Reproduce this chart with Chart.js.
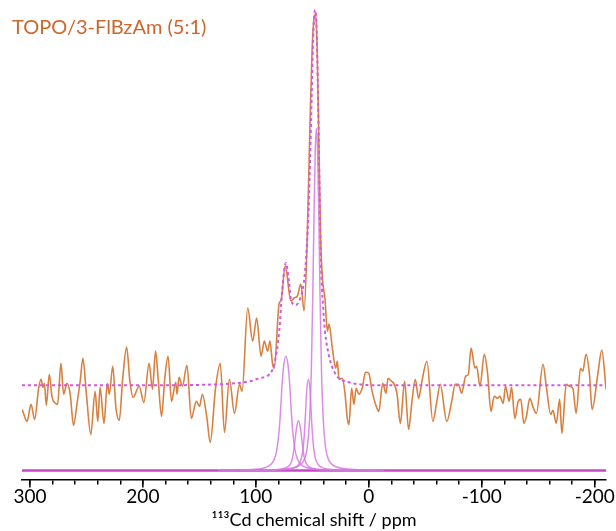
<!DOCTYPE html>
<html>
<head>
<meta charset="utf-8">
<script src="https://cdn.jsdelivr.net/npm/chart.js@4"></script>
<style>
  body { margin: 0; background: #fff; }
  canvas { display: block; }
</style>
</head>
<body>
<canvas id="graph" width="616" height="531"></canvas>
<script>
'use strict';

const sampleLabel = 'TOPO/3-FlBzAm (5:1)';
const axisTitle = '\u00b9\u00b9\u00b3Cd chemical shift / ppm';
const tickLabels = [300, 200, 100, 0, -100, -200];

// measured 113Cd spectrum, [ppm, intensity]
const spectrum = [
  [306.9, 61], [302.5, 49], [299.0, 66], [295.8, 51], [292.3, 82], [290.1, 91], [288.4, 83], [287.2, 87],
  [285.5, 65], [282.8, 96], [280.5, 74], [277.5, 67], [275.5, 66], [272.5, 107], [270.2, 76], [267.2, 87],
  [264.3, 76], [261.4, 45], [258.4, 66], [255.5, 89], [253.1, 112], [250.2, 79], [246.1, 36], [242.3, 79],
  [239.9, 49], [237.9, 83], [234.4, 47], [231.5, 87], [229.7, 76], [226.7, 104], [223.8, 62], [220.9, 50],
  [217.9, 91], [214.4, 123], [211.5, 89], [208.6, 73], [203.3, 84], [199.1, 68], [194.5, 107], [191.5, 81],
  [188.8, 119], [186.5, 92], [183.5, 54], [180.6, 92], [177.7, 114], [174.7, 69], [170.9, 88], [169.8, 76],
  [168.0, 93], [165.0, 84], [161.0, 105], [157.1, 52], [152.7, 69], [149.8, 64], [147.4, 76], [143.4, 53],
  [140.4, 28], [135.7, 82], [131.5, 107], [127.8, 38], [123.4, 91], [118.9, 57], [114.5, 86], [112.2, 79],
  [107.2, 162], [102.8, 129], [99.3, 152], [95.4, 114], [92.5, 129], [89.6, 119], [87.5, 129], [85.2, 106],
  [83.7, 102], [79.3, 167], [77.8, 169], [74.0, 204], [69.0, 169], [66.1, 172], [63.2, 174], [60.2, 186],
  [57.3, 159], [54.6, 229], [52.0, 349], [50.2, 419], [48.5, 451], [47.1, 455], [45.8, 424], [44.1, 319],
  [42.7, 234], [41.1, 192], [38.8, 171], [36.7, 139], [35.2, 146], [32.3, 122], [29.3, 102], [27.9, 109],
  [26.4, 91], [23.5, 92], [21.1, 77], [19.1, 52], [17.6, 46], [15.2, 82], [13.2, 66], [11.2, 82],
  [8.8, 76], [5.9, 82], [2.9, 98], [0.0, 97], [-2.4, 82], [-4.4, 72], [-6.6, 64], [-8.8, 59],
  [-12.3, 87], [-15.2, 77], [-17.0, 92], [-20.0, 89], [-22.0, 87], [-24.9, 77], [-27.9, 47], [-31.7, 89],
  [-35.2, 41], [-38.2, 69], [-41.1, 91], [-44.1, 72], [-47.0, 89], [-51.4, 109], [-56.7, 49], [-60.2, 69],
  [-63.2, 86], [-69.0, 49], [-73.4, 69], [-76.4, 86], [-79.3, 86], [-82.2, 77], [-85.7, 94], [-88.1, 96],
  [-90.5, 122], [-94.0, 102], [-95.4, 104], [-98.4, 84], [-102.2, 116], [-105.1, 97], [-108.1, 59], [-111.0, 74],
  [-113.9, 72], [-116.0, 74], [-118.9, 67], [-121.0, 84], [-124.2, 69], [-126.3, 83], [-129.3, 52], [-132.2, 69],
  [-134.5, 71], [-137.2, 47], [-139.5, 54], [-142.5, 72], [-145.4, 63], [-148.3, 57], [-154.2, 106], [-157.1, 84],
  [-161.0, 56], [-163.0, 60], [-165.9, 47], [-168.9, 71], [-170.9, 37], [-174.7, 86], [-177.7, 84], [-180.6, 82],
  [-183.5, 57], [-187.4, 102], [-189.4, 99], [-192.3, 116], [-195.3, 96], [-197.6, 61], [-202.7, 96], [-206.2, 120],
  [-210.0, 81]
];

// total fit (offset to the spectrum baseline)
const fit = [
  [307, 85], [200, 85], [132.2, 86], [105.7, 89], [96.9, 92], [88.1, 96], [83.7, 106], [79.3, 139],
  [76.7, 179], [73.4, 207], [70.5, 186], [68.7, 169], [64.6, 165], [61.7, 169], [58.8, 179], [56.4, 199],
  [54.6, 229], [52.9, 274], [51.1, 349], [49.3, 429], [47.6, 459], [46.3, 444], [44.9, 369], [43.6, 279],
  [42.3, 206], [40.5, 164], [38.8, 139], [35.2, 114], [30.8, 99], [26.4, 92], [17.6, 88], [8.8, 86],
  [-8.8, 85], [-210, 85]
];

// fitted components
const site1 = [
  [106.4, 0], [86.4, 0.6], [71.4, 1.8], [64.4, 3.5], [59.4, 7], [56.4, 13], [54.4, 24], [52.4, 52],
  [50.9, 100], [49.6, 175], [48.4, 262], [47.4, 320], [46.4, 341], [45.4, 320], [44.4, 262], [43.2, 175],
  [41.9, 100], [40.4, 52], [38.4, 24], [36.4, 13], [33.4, 7], [28.4, 3.5], [21.4, 1.8], [6.4, 0.6], [-13.6, 0]
];
const site2 = [
  [133.4, 0], [113.4, 0.5], [98.4, 1.5], [91.4, 3], [86.4, 6.5], [83.4, 12], [81.4, 21], [79.4, 40],
  [78.1, 60], [76.9, 84], [75.4, 104], [73.4, 114], [71.4, 104], [69.9, 84], [68.7, 60], [67.4, 40],
  [65.4, 21], [63.4, 12], [60.4, 6.5], [55.4, 3], [48.4, 1.5], [33.4, 0.5], [13.4, 0]
];
const site3 = [
  [102.3, 0], [87.3, 0.5], [79.3, 1.1], [74.3, 2.3], [70.8, 4.5], [68.8, 8], [67.3, 14], [65.8, 26],
  [63.8, 44], [62.3, 50], [60.8, 44], [58.8, 26], [57.3, 14], [55.8, 8], [53.8, 4.5], [50.3, 2.3],
  [45.3, 1.1], [37.3, 0.5], [22.3, 0]
];
const site4 = [
  [113.5, 0], [93.5, 0.3], [78.5, 0.7], [70.5, 1.5], [65.5, 3], [62.5, 5.5], [60.5, 9.5], [59, 16],
  [57.5, 30], [56.5, 47], [55, 79], [53.5, 91], [52, 79], [50.5, 47], [49.5, 30], [48, 16],
  [46.5, 9.5], [44.5, 5.5], [41.5, 3], [36.5, 1.5], [28.5, 0.7], [13.5, 0.3], [-6.5, 0]
];
const baseline = [[307, 0], [-210, 0]];

const toXY = arr => arr.map(p => ({ x: p[0], y: p[1] }));

const sampleTitle = {
  id: 'sampleTitle',
  afterDraw(chart) {
    const c = chart.ctx;
    c.save();
    c.font = '20px Lato';
    c.fillStyle = 'rgb(204, 102, 42)';
    c.textBaseline = 'alphabetic';
    c.fillText(sampleLabel, 12, 34);
    c.restore();
  }
};

// longer tick marks at the labelled values
const majorTicks = {
  id: 'majorTicks',
  afterDraw(chart) {
    const sx = chart.scales.x;
    const c = chart.ctx;
    c.save();
    c.strokeStyle = '#000';
    c.lineWidth = 1.5;
    tickLabels.forEach(v => {
      const px = sx.getPixelForValue(v);
      c.beginPath();
      c.moveTo(px, sx.top);
      c.lineTo(px, sx.top + 8);
      c.stroke();
    });
    c.restore();
  }
};

const compColor = 'rgba(214, 120, 226, 0.85)';

const ctx = document.getElementById('graph').getContext('2d');
new Chart(ctx, {
  type: 'line',
  data: {
    datasets: [
      { data: toXY(fit), borderColor: 'rgb(210, 90, 220)', borderWidth: 2, borderDash: [3, 3] },
      { data: toXY(spectrum), borderColor: 'rgb(216, 128, 64)', borderWidth: 1.6 },
      { data: toXY(site1), borderColor: compColor, borderWidth: 1.5 },
      { data: toXY(site2), borderColor: compColor, borderWidth: 1.5 },
      { data: toXY(site3), borderColor: compColor, borderWidth: 1.5 },
      { data: toXY(site4), borderColor: compColor, borderWidth: 1.5 },
      { data: toXY(baseline), borderColor: 'rgb(200, 70, 200)', borderWidth: 2.5 }
    ]
  },
  options: {
    responsive: false,
    animation: false,
    layout: { padding: { left: 22, right: 9, top: 0, bottom: 0 } },
    elements: {
      point: { radius: 0 },
      line: { cubicInterpolationMode: 'monotone', fill: false }
    },
    plugins: { legend: { display: false }, tooltip: { enabled: false } },
    scales: {
      x: {
        type: 'linear',
        reverse: true,
        min: -210,
        max: 307,
        ticks: {
          stepSize: 20,
          includeBounds: false,
          padding: 1,
          color: '#000',
          font: { family: 'Lato', size: 19 },
          maxRotation: 0,
          autoSkip: false,
          callback: v => (tickLabels.includes(v) ? String(v) : '')
        },
        grid: {
          drawOnChartArea: false,
          drawTicks: true,
          tickLength: 5,
          color: '#000',
          lineWidth: 1.5
        },
        border: { color: '#000', width: 1.5 },
        title: {
          display: true,
          text: axisTitle,
          color: '#000',
          font: { family: 'Lato', size: 18 },
          padding: { top: 0, bottom: 0 }
        }
      },
      y: {
        display: false,
        min: -9,
        max: 469
      }
    }
  },
  plugins: [sampleTitle, majorTicks]
});
</script>
</body>
</html>
